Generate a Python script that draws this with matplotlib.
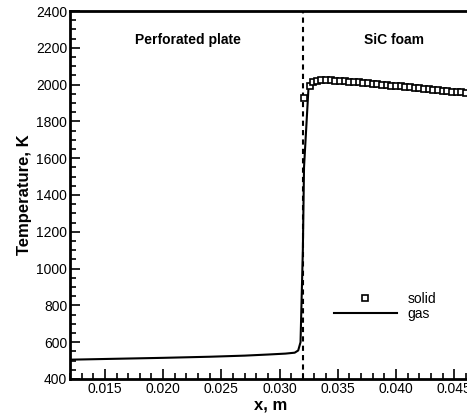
import matplotlib
matplotlib.use("Agg")
import matplotlib.pyplot as plt
from matplotlib.ticker import MultipleLocator, FormatStrFormatter

plt.rcParams['font.family'] = ['Liberation Sans', 'DejaVu Sans']

# gas temperature along x
x_gas = [0.0120, 0.0160, 0.0200, 0.0240, 0.0270, 0.0290, 0.0305, 0.0313,
         0.0316, 0.0318, 0.0320, 0.0321, 0.0325, 0.0330, 0.0336, 0.0344,
         0.0352, 0.0360, 0.0368, 0.0376, 0.0384, 0.0392, 0.0400, 0.0408,
         0.0416, 0.0424, 0.0432, 0.0440, 0.0448, 0.0456, 0.0466]
t_gas = [505, 510, 515, 521, 527, 533, 538, 543,
         555, 600, 1100, 1550, 2000, 2015, 2022, 2022,
         2019, 2015, 2011, 2006, 2002, 1997, 1992, 1987,
         1982, 1977, 1972, 1967, 1962, 1958, 1953]

# solid temperature (symbols)
x_solid = [0.0321, 0.0326, 0.0329, 0.0332, 0.0336, 0.0340, 0.0344, 0.0348,
           0.0352, 0.0356, 0.0360, 0.0364, 0.0368, 0.0372, 0.0376, 0.0380,
           0.0384, 0.0388, 0.0392, 0.0396, 0.0400, 0.0404, 0.0408, 0.0412,
           0.0416, 0.0420, 0.0424, 0.0428, 0.0432, 0.0436, 0.0440, 0.0444,
           0.0448, 0.0452, 0.0456, 0.0460, 0.0464]
t_solid = [1925, 1990, 2012, 2020, 2023, 2024, 2023, 2022,
           2020, 2018, 2016, 2014, 2012, 2010, 2007, 2005,
           2003, 2000, 1998, 1995, 1993, 1990, 1988, 1985,
           1982, 1980, 1977, 1975, 1972, 1970, 1967, 1965,
           1962, 1960, 1958, 1956, 1954]

x_interface = 0.032

fig = plt.figure(figsize=(4.67, 4.16), dpi=100)
ax = fig.add_axes([70 / 467, 37 / 416, 1.01 - 70 / 467, 368 / 416])

ax.plot(x_gas, t_gas, color='black', lw=1.5, label='gas', zorder=3)
ax.plot(x_solid, t_solid, ls='none', marker='s', ms=5, mfc='white',
        mec='black', mew=1.2, label='solid', zorder=4)
ax.axvline(x_interface, color='black', lw=1.5, ls=(0, (2.5, 2)), zorder=2)

ax.set_xlim(0.012, 0.04650)
ax.set_ylim(400, 2400)
ax.xaxis.set_major_locator(MultipleLocator(0.005))
ax.xaxis.set_minor_locator(MultipleLocator(0.001))
ax.yaxis.set_major_locator(MultipleLocator(200))
ax.yaxis.set_minor_locator(MultipleLocator(50))
ax.xaxis.set_major_formatter(FormatStrFormatter('%.3f'))
ax.tick_params(which='both', direction='in', top=False, right=False,
               labelsize=10, width=1.2, pad=2)
ax.tick_params(which='major', length=7)
ax.tick_params(which='minor', length=4)
for s in ax.spines.values():
    s.set_linewidth(2)
ax.spines['right'].set_visible(False)

ax.set_xlabel('x, m', fontsize=12, fontweight='bold', labelpad=1)
ax.set_ylabel('Temperature, K', fontsize=12, fontweight='bold', labelpad=3)

ax.text(0.02215, 2240, 'Perforated plate', fontsize=10, fontweight='bold',
        ha='center', va='center')
ax.text(0.0398, 2240, 'SiC foam', fontsize=10, fontweight='bold',
        ha='center', va='center')

handles, labels = ax.get_legend_handles_labels()
ax.legend(handles[::-1], labels[::-1], loc='lower left',
          bbox_to_anchor=(0.64, 0.138), frameon=False, fontsize=10,
          handlelength=4.5, handletextpad=0.8, labelspacing=0.1,
          borderpad=0)

fig.savefig('out.png', dpi=100)
